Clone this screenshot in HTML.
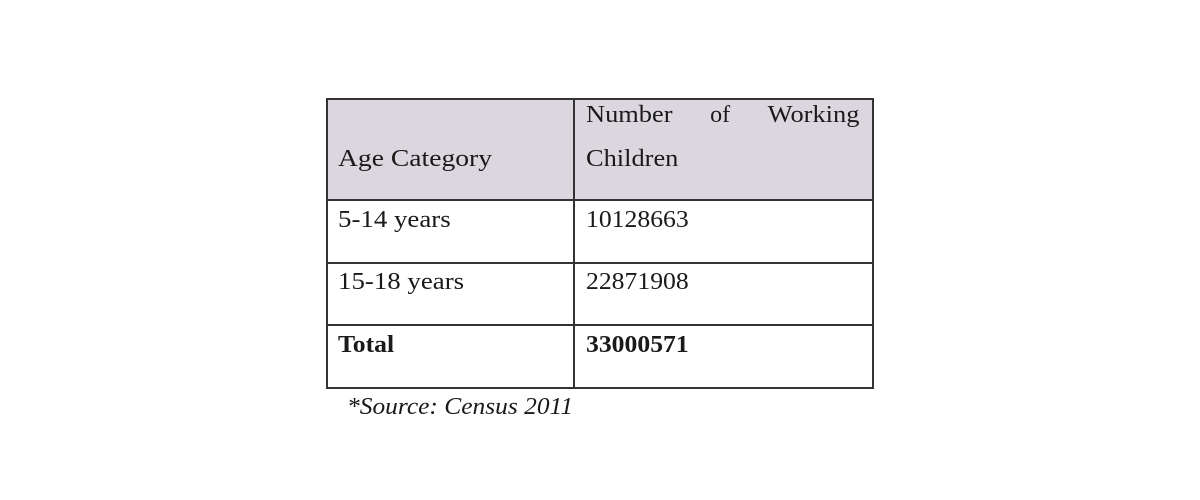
<!DOCTYPE html>
<html><head><meta charset="utf-8"><style>
body{margin:0;width:1200px;height:500px;background:#fff;position:relative;overflow:hidden;font-family:"Liberation Serif",serif;color:#1a1a1a}
.b{position:absolute;background:#333}
.t{position:absolute;font-size:24px;line-height:23px;white-space:nowrap;transform-origin:left center}
</style></head><body>
<div>
<div style="position:absolute;left:327px;top:99px;width:546px;height:101px;background:#dcd7df"></div>
<div class="b" style="left:326px;top:98px;width:548px;height:2px"></div>
<div class="b" style="left:326px;top:387px;width:548px;height:2px"></div>
<div class="b" style="left:326px;top:98px;width:1.5px;height:291px"></div>
<div class="b" style="left:872px;top:98px;width:1.5px;height:291px"></div>
<div class="b" style="left:573px;top:98px;width:1.5px;height:291px"></div>
<div class="b" style="left:326px;top:199px;width:548px;height:2px"></div>
<div class="b" style="left:326px;top:262px;width:548px;height:2px"></div>
<div class="b" style="left:326px;top:324px;width:548px;height:2px"></div>

<div class="t" style="left:338px;top:148px;transform:scaleX(1.15)">Age Category</div>
<div class="t" style="left:586px;top:104px;width:273px;display:flex;justify-content:space-between"><span style="display:inline-block;transform:scaleX(1.1);transform-origin:left">Number</span><span>of</span><span style="display:inline-block;transform:scaleX(1.1);transform-origin:right">Working</span></div>
<div class="t" style="left:586px;top:148px;transform:scaleX(1.1)">Children</div>

<div class="t" style="left:338px;top:209px;transform:scaleX(1.12)">5-14 years</div>
<div class="t" style="left:586px;top:209px;transform:scaleX(1.07)">10128663</div>
<div class="t" style="left:338px;top:271px;transform:scaleX(1.12)">15-18 years</div>
<div class="t" style="left:586px;top:271px;transform:scaleX(1.07)">22871908</div>
<div class="t" style="left:338px;top:334px;font-weight:bold;transform:scaleX(1.07)">Total</div>
<div class="t" style="left:586px;top:334px;font-weight:bold;transform:scaleX(1.07)">33000571</div>
</div>
<div class="t" style="left:347px;top:396px;font-style:italic;transform:scaleX(1.06)">*Source: Census 2011</div>
</body></html>
